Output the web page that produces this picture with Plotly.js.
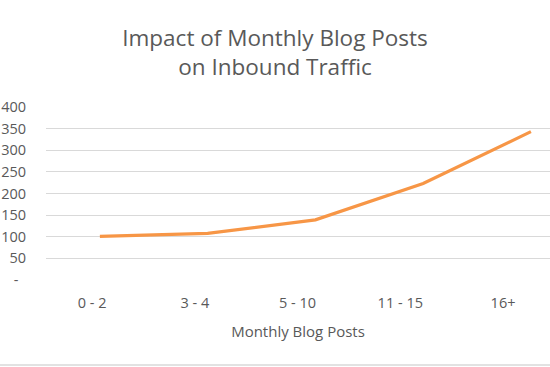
<!DOCTYPE html>
<html>
<head>
<meta charset="utf-8">
<script src="https://cdn.plot.ly/plotly-3.0.1.min.js"></script>
<style>html,body{margin:0;padding:0;background:#fff;}#chart{width:550px;height:367px;}</style>
</head>
<body>
<div id="chart"></div>
<script>
var categories = ["0 - 2", "3 - 4", "5 - 10", "11 - 15", "16+"];
var traffic = [101, 108, 139, 223, 343];
var yTickVals = [0, 50, 100, 150, 200, 250, 300, 350, 400];
var yTickText = ["-  ", "50", "100", "150", "200", "250", "300", "350", "400"];

var FONT = "Open Sans, Liberation Sans, sans-serif";
var GRAY = "#595959";

var trace = {
  x: categories,
  y: traffic,
  type: "scatter",
  mode: "lines",
  line: {color: "#F79646", width: 3.2},
  hoverinfo: "skip",
  xaxis: "x",
  yaxis: "y"
};

var layout = {
  width: 550,
  height: 367,
  margin: {l: 46, r: 0, t: 107, b: 87},
  paper_bgcolor: "#ffffff",
  plot_bgcolor: "#ffffff",
  showlegend: false,
  title: {
    text: "Impact of Monthly Blog Posts<br>on Inbound Traffic",
    font: {family: FONT, size: 22.5, color: GRAY},
    x: 0.5, xanchor: "center",
    yref: "container",
    y: 0.876, yanchor: "middle"
  },
  xaxis: {
    type: "category",
    categoryarray: categories,
    range: [-0.5, 4.177],
    showticklabels: false,
    showgrid: false,
    zeroline: false,
    showline: false,
    ticks: ""
  },
  xaxis2: {
    overlaying: "x",
    anchor: "y",
    side: "bottom",
    type: "linear",
    range: [-0.448, 4.457],
    tickmode: "array",
    tickvals: categories.map(function(c, i){ return i; }),
    ticktext: categories,
    showgrid: false,
    zeroline: false,
    showline: false,
    ticks: "",
    ticklabelstandoff: 12,
    tickfont: {family: FONT, size: 14.5, color: GRAY},
    title: {text: "Monthly Blog Posts", font: {family: FONT, size: 15, color: GRAY}, standoff: 15}
  },
  yaxis: {
    range: [0, 400],
    tickmode: "array",
    tickvals: yTickVals,
    ticktext: yTickText,
    showgrid: true,
    gridcolor: "#d9d9d9",
    gridwidth: 1,
    zeroline: false,
    showline: false,
    ticks: "",
    ticklabelstandoff: 19,
    tickfont: {family: FONT, size: 14.5, color: GRAY}
  },
  shapes: [{
    type: "line", xref: "paper", yref: "paper",
    x0: -46/504, x1: 1, y0: -85/173, y1: -85/173,
    line: {color: "#d9d9d9", width: 1.5}
  }]
};

// invisible trace so the label axis is registered
var axisTrace = {
  x: [0, 4], y: [null, null], type: "scatter", mode: "lines",
  xaxis: "x2", yaxis: "y", hoverinfo: "skip", showlegend: false
};

Plotly.newPlot("chart", [trace, axisTrace], layout, {staticPlot: true, displayModeBar: false});
</script>
</body>
</html>
